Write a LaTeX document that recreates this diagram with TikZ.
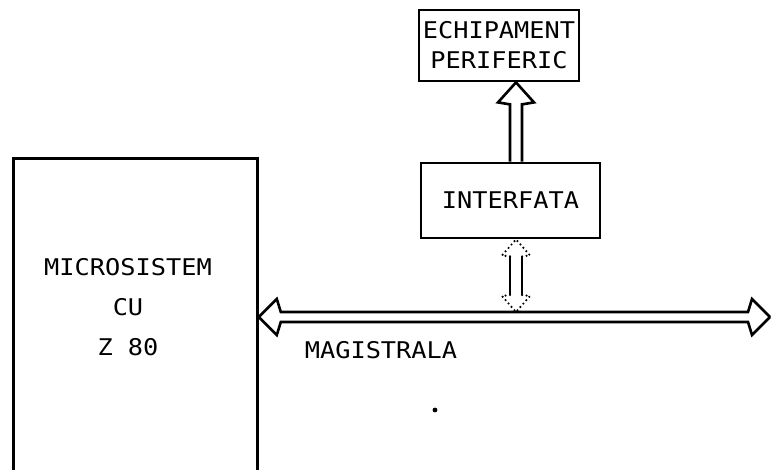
\documentclass[tikz,border=0pt]{standalone}
\usepackage{fontspec}
\usetikzlibrary{calc}
\newfontfamily\lblfont[FakeStretch=1.1]{DejaVu Sans Mono}
\begin{document}
\begin{tikzpicture}[x=1pt,y=-1pt,
  box/.style={draw, line width=2.8pt, inner sep=0pt},
  lbl/.style={font=\lblfont\fontsize{23}{30}\selectfont, inner sep=0pt, align=center},
  lblwide/.style={font=\lblfont\fontsize{23}{40}\selectfont, inner sep=0pt, align=center},
  wire/.style={line width=2.6pt, line join=miter},
  dotwire/.style={line width=2.4pt, line cap=round, dash pattern=on 0pt off 4.5pt}]
\useasboundingbox (0,0) rectangle (777,470);
% boxes
\node[box, lbl, minimum width=160pt, minimum height=71pt] (echip) at (499,45.5) {ECHIPAMENT\\PERIFERIC};
\node[box, lbl, minimum width=179pt, minimum height=75pt] (interf) at (510.5,200.5) {INTERFATA};
\node[box, minimum width=244pt, minimum height=340pt, anchor=north west] (micro) at (12,157) {};
\node[lblwide] (microtxt) at (128,307) {MICROSISTEM\\CU\\Z 80};
\node[lbl] (mag) at (381,350) {MAGISTRALA};
\node[circle, fill, inner sep=1.7pt] (dot) at (435,410) {};
% helper coordinates
\coordinate (ax) at (516,0);
\coordinate (busL) at ($(micro.north east)+(0,160)$);
\coordinate (busR) at (770,317);
\coordinate (lowB) at ($(busL -| ax)+(0,-5)$);
% bus (double arrow, both ends)
\draw[wire] (busL) -- ++(18,-18) -- ++(4,13) -- ($(busR)+(-22,-5)$) -- ++(4,-13) -- (busR);
\draw[wire] (busL) -- ++(18,18) -- ++(4,-13) -- ($(busR)+(-22,5)$) -- ++(4,13) -- (busR);
% interface -> peripheral (hollow up arrow)
\draw[wire] ($(interf.north -| ax)+(-6,0)$) -- ($(echip.south -| ax)+(-6,22)$) -- ++(-12,-2)
  -- (echip.south -| ax) -- ++(18,20) -- ++(-12,2) -- ($(interf.north -| ax)+(6,0)$);
% interface <-> bus (hollow double arrow, dotted heads)
\draw[wire] ($(interf.south -| ax)+(-6,17)$) -- ($(lowB)+(-6,-17)$);
\draw[wire] ($(interf.south -| ax)+(6,17)$) -- ($(lowB)+(6,-17)$);
\draw[dotwire] ($(interf.south -| ax)+(-6,17)$) -- ++(-8,-1) -- (interf.south -| ax) -- ++(14,16) -- ++(-8,1);
\draw[dotwire] ($(lowB)+(-6,-17)$) -- ++(-8,1) -- (lowB) -- ++(14,-16) -- ++(-8,-1);
\end{tikzpicture}
\end{document}
